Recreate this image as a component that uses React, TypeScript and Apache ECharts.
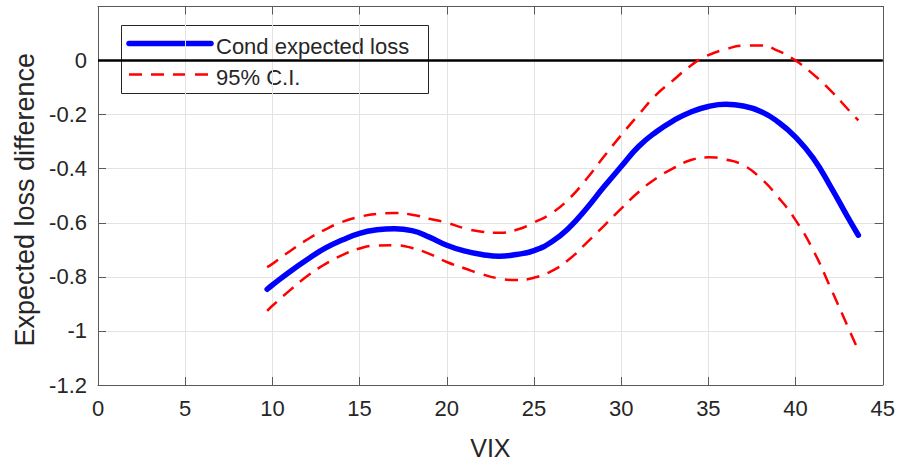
import React, { useEffect, useRef } from "react";
import * as echarts from "echarts";

const vix = [9.7, 10, 11, 12, 13, 14, 15, 16, 17, 18, 19, 20, 21, 22, 23, 24, 25, 26, 27, 28, 29, 30, 31, 32, 33, 34, 35, 36, 37, 38, 39, 40, 41, 42, 43, 43.6];
const condLoss = [-0.846, -0.83, -0.781, -0.736, -0.695, -0.664, -0.639, -0.626, -0.622, -0.629, -0.653, -0.683, -0.704, -0.717, -0.724, -0.717, -0.703, -0.671, -0.619, -0.548, -0.468, -0.392, -0.318, -0.264, -0.222, -0.19, -0.17, -0.162, -0.168, -0.188, -0.227, -0.283, -0.36, -0.465, -0.58, -0.646];
const upperCI = [-0.764, -0.752, -0.705, -0.662, -0.626, -0.597, -0.578, -0.567, -0.564, -0.57, -0.585, -0.6, -0.62, -0.633, -0.637, -0.626, -0.599, -0.565, -0.512, -0.439, -0.356, -0.276, -0.2, -0.127, -0.072, -0.018, 0.02, 0.042, 0.055, 0.056, 0.036, 0.0, -0.05, -0.11, -0.18, -0.221];
const lowerCI = [-0.926, -0.907, -0.85, -0.797, -0.754, -0.72, -0.695, -0.684, -0.683, -0.693, -0.715, -0.745, -0.768, -0.79, -0.806, -0.812, -0.803, -0.779, -0.736, -0.675, -0.612, -0.548, -0.486, -0.436, -0.398, -0.368, -0.358, -0.366, -0.387, -0.435, -0.505, -0.59, -0.7, -0.84, -0.985, -1.073];
const zeroLine = [[0, 0], [45, 0]];

const legendLabels = ["Cond expected loss", "95% C.I."];
const xName = "VIX";
const yName = "Expected loss difference";

const FONT = "Liberation Sans, Arial, Helvetica, sans-serif";
const AXIS = "#5a5a5a";
const TXT = "#262626";
const GRID = "#e3e3e3";

export default function App() {
  const ref = useRef<HTMLDivElement>(null);
  useEffect(() => {
    if (!ref.current) return;
    const chart = echarts.init(ref.current, undefined, { renderer: "svg" });
    const pairs = (ys: number[]) => vix.map((x, i) => [x, ys[i]]);
    const tick = { show: true, inside: true, length: 8, lineStyle: { color: AXIS, width: 1 } };
    chart.setOption({
      animation: false,
      backgroundColor: "#ffffff",
      textStyle: { fontFamily: FONT },
      grid: { left: 98, right: 13, top: 6.5, bottom: 77, containLabel: false },
      xAxis: [
        {
          type: "value", min: 0, max: 45, interval: 5, position: "bottom",
          axisLine: { show: true, onZero: false, lineStyle: { color: AXIS, width: 1 } },
          axisTick: tick,
          axisLabel: { color: TXT, fontSize: 22, fontFamily: FONT, margin: 12 },
          splitLine: { show: true, lineStyle: { color: GRID, width: 1 } },
          name: xName, nameLocation: "middle", nameGap: 50,
          nameTextStyle: { color: TXT, fontSize: 25, fontFamily: FONT },
        },
        {
          type: "value", min: 0, max: 45, interval: 5, position: "top",
          axisLine: { show: true, onZero: false, lineStyle: { color: AXIS, width: 1 } },
          axisTick: tick, axisLabel: { show: false }, splitLine: { show: false },
        },
      ],
      yAxis: [
        {
          type: "value", min: -1.2, max: 0.2, interval: 0.2, position: "left",
          axisLine: { show: true, onZero: false, lineStyle: { color: AXIS, width: 1 } },
          axisTick: tick,
          axisLabel: {
            color: TXT, fontSize: 22, fontFamily: FONT, margin: 11,
            formatter: (v: number) => (v > 0.1 ? "" : String(+v.toFixed(1))),
          },
          splitLine: { show: true, lineStyle: { color: GRID, width: 1 } },
          name: yName, nameLocation: "middle", nameGap: 60,
          nameTextStyle: { color: TXT, fontSize: 27, fontFamily: FONT, padding: [0, 8, 0, 0] },
        },
        {
          type: "value", min: -1.2, max: 0.2, interval: 0.2, position: "right",
          axisLine: { show: true, onZero: false, lineStyle: { color: AXIS, width: 1 } },
          axisTick: tick, axisLabel: { show: false }, splitLine: { show: false },
        },
      ],
      series: [
        {
          type: "line", data: zeroLine, showSymbol: false, symbol: "none", silent: true,
          lineStyle: { color: "#000000", width: 2.5 }, z: 1,
        },
        {
          name: legendLabels[0], type: "line", data: pairs(condLoss), smooth: true,
          showSymbol: false, symbol: "none",
          lineStyle: { color: "#0000ff", width: 5.5, cap: "round" }, z: 3,
        },
        {
          name: legendLabels[1], type: "line", data: pairs(upperCI), smooth: true,
          showSymbol: false, symbol: "none",
          lineStyle: { color: "#ff0000", width: 2.5, type: [13, 9] }, z: 2,
        },
        {
          name: legendLabels[1], type: "line", data: pairs(lowerCI), smooth: true,
          showSymbol: false, symbol: "none",
          lineStyle: { color: "#ff0000", width: 2.5, type: [13, 9] }, z: 2,
        },
      ],
      graphic: [
        {
          type: "group", z: 100,
          children: [
            { type: "rect", shape: { x: 121.5, y: 25.5, width: 307, height: 68 }, style: { fill: "#ffffff", stroke: "#262626", lineWidth: 1 } },
            { type: "line", shape: { x1: 129, y1: 43.5, x2: 211, y2: 43.5 }, style: { stroke: "#0000ff", lineWidth: 5.5, lineCap: "round" } },
            { type: "line", shape: { x1: 129, y1: 74.5, x2: 211, y2: 74.5 }, style: { stroke: "#ff0000", lineWidth: 2.5, lineDash: [13, 9] } },
            { type: "text", x: 216, y: 46, style: { text: legendLabels[0], fill: TXT, font: `22px ${FONT}`, verticalAlign: "middle", align: "left" } },
            { type: "text", x: 216, y: 77, style: { text: legendLabels[1], fill: TXT, font: `22px ${FONT}`, verticalAlign: "middle", align: "left" } },
          ],
        },
      ],
    });
    return () => chart.dispose();
  }, []);
  return <div ref={ref} style={{ position: "fixed", left: 0, top: 0, width: 898, height: 465 }} />;
}
